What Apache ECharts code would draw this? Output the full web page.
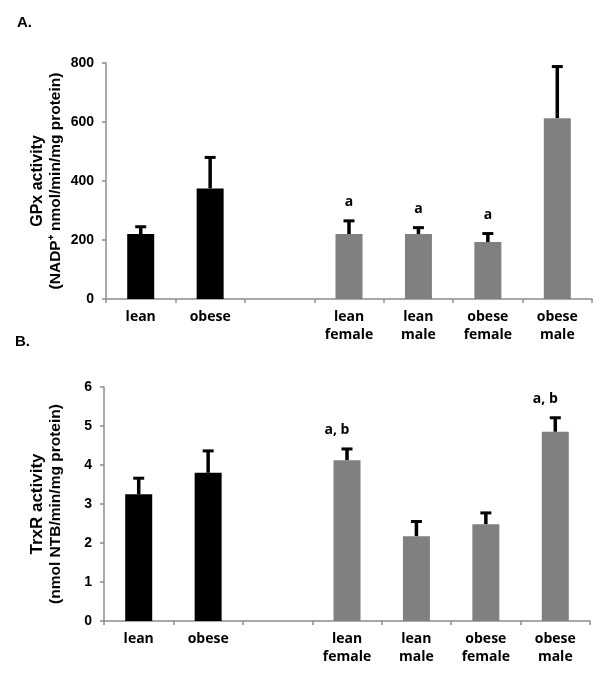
<!DOCTYPE html>
<html>
<head>
<meta charset="utf-8">
<script src="https://cdn.jsdelivr.net/npm/echarts@6/dist/echarts.min.js"></script>
<style>
html,body{margin:0;padding:0;background:#fff;}
#chart{width:604px;height:680px;}
</style>
</head>
<body>
<div id="chart"></div>
<script>
// ---- data ----
const categories = ['lean', 'obese', '', 'lean\nfemale', 'lean\nmale', 'obese\nfemale', 'obese\nmale'];
const barGroup = ['pooled', 'pooled', null, 'sex', 'sex', 'sex', 'sex'];

const gpxMean = [220, 375, null, 220, 220, 193, 613];
const gpxErr  = [30, 110, null, 50, 27, 34, 180];
const gpxSig  = ['', '', '', 'a', 'a', 'a', ''];
const gpxTicks = [0, 200, 400, 600, 800];

const trxMean = [3.25, 3.8, null, 4.12, 2.17, 2.48, 4.85];
const trxErr  = [0.45, 0.6, null, 0.33, 0.42, 0.33, 0.4];
const trxSig  = ['', '', '', 'a, b', '', '', 'a, b'];
const trxTicks = [0, 1, 2, 3, 4, 5, 6];

const panelTitles = ['A.', 'B.'];
const yTitle1 = ['GPx activity', 'TrxR activity'];
const yTitle2 = ['(NADP\u207A nmol/min/mg protein)', '(nmol NTB/min/mg protein)'];

// ---- style ----
const groupColor = { pooled: '#000000', sex: '#808080' };
const axisGray = '#8c8c8c';
const tickFont = 'Liberation Sans, Arial, sans-serif';
const catFont = 'Open Sans, sans-serif';
const sigDx = { 'a': 0, 'a, b': -10 };

const chart = echarts.init(document.getElementById('chart'), null, { renderer: 'canvas' });

function xAxisCfg(gridIndex) {
  return {
    type: 'category', gridIndex: gridIndex, data: categories,
    axisLine: { show: true, lineStyle: { color: axisGray, width: 1.5 } },
    axisTick: { show: true, length: 4, lineStyle: { color: axisGray, width: 1.5 } },
    axisLabel: { color: '#000', fontFamily: catFont, fontWeight: 'bold', fontSize: 14, lineHeight: 18, margin: 9, interval: 0 },
    splitLine: { show: false }
  };
}
function yAxisCfg(gridIndex, ticks) {
  return {
    type: 'value', gridIndex: gridIndex,
    min: ticks[0], max: ticks[ticks.length - 1], interval: ticks[1] - ticks[0],
    axisLine: { show: true, lineStyle: { color: axisGray, width: 1.5 } },
    axisTick: { show: true, length: 4, lineStyle: { color: axisGray, width: 1.5 } },
    axisLabel: { color: '#000', fontFamily: tickFont, fontWeight: 'bold', fontSize: 14, margin: 12 },
    splitLine: { show: false }
  };
}
function barSeries(idx, mean) {
  return {
    type: 'bar', xAxisIndex: idx, yAxisIndex: idx, barWidth: 27,
    data: mean.map((v, i) => ({ value: v, itemStyle: { color: groupColor[barGroup[i]] || '#000' } })),
    silent: true, animation: false
  };
}
function errSeries(idx, mean, err, sig) {
  return {
    type: 'custom', xAxisIndex: idx, yAxisIndex: idx, animation: false, silent: true,
    data: mean.map((v, i) => [i, v, err[i]]),
    renderItem: function (params, api) {
      const i = api.value(0), v = api.value(1), e = api.value(2);
      if (v == null || isNaN(v)) return null;
      const p0 = api.coord([i, v]);
      const p1 = api.coord([i, v + e]);
      const children = [
        { type: 'line', shape: { x1: p0[0], y1: p0[1], x2: p0[0], y2: p1[1] + 1 }, style: { stroke: '#000', lineWidth: 3.5 } },
        { type: 'line', shape: { x1: p0[0] - 5.5, y1: p1[1] + 1.5, x2: p0[0] + 5.5, y2: p1[1] + 1.5 }, style: { stroke: '#000', lineWidth: 3 } }
      ];
      const s = sig[i];
      if (s) {
        children.push({
          type: 'text', x: p0[0] + (sigDx[s] || 0), y: p1[1] - 17,
          style: { text: s, fill: '#000', font: 'bold 14px ' + catFont, align: 'center', verticalAlign: 'middle' }
        });
      }
      return { type: 'group', children: children };
    }
  };
}

const grids = [
  { left: 106, top: 63, width: 486, height: 236 },
  { left: 104, top: 387, width: 486, height: 234 }
];

const graphics = [];
const titlePos = [[17, 24], [15, 343]];
const title1X = [38, 37];
const title1Size = [16, 17];
const title2X = [56, 56];
const title2Size = [15.5, 15.5];
grids.forEach((g, k) => {
  const cy = g.top + g.height / 2;
  graphics.push({ type: 'text', left: titlePos[k][0], top: titlePos[k][1] - 9,
    style: { text: panelTitles[k], font: 'bold 15px ' + tickFont, fill: '#000' } });
  graphics.push({ type: 'text', x: title1X[k], y: cy, rotation: Math.PI / 2,
    style: { text: yTitle1[k], font: 'bold ' + title1Size[k] + 'px ' + tickFont, fill: '#000', align: 'center', verticalAlign: 'middle' } });
  graphics.push({ type: 'text', x: title2X[k], y: cy, rotation: Math.PI / 2,
    style: { text: yTitle2[k], font: 'bold ' + title2Size[k] + 'px ' + tickFont, fill: '#000', align: 'center', verticalAlign: 'middle' } });
});

chart.setOption({
  animation: false,
  backgroundColor: '#fff',
  grid: grids,
  xAxis: [xAxisCfg(0), xAxisCfg(1)],
  yAxis: [yAxisCfg(0, gpxTicks), yAxisCfg(1, trxTicks)],
  series: [
    barSeries(0, gpxMean), errSeries(0, gpxMean, gpxErr, gpxSig),
    barSeries(1, trxMean), errSeries(1, trxMean, trxErr, trxSig)
  ],
  graphic: graphics
});
</script>
</body>
</html>
